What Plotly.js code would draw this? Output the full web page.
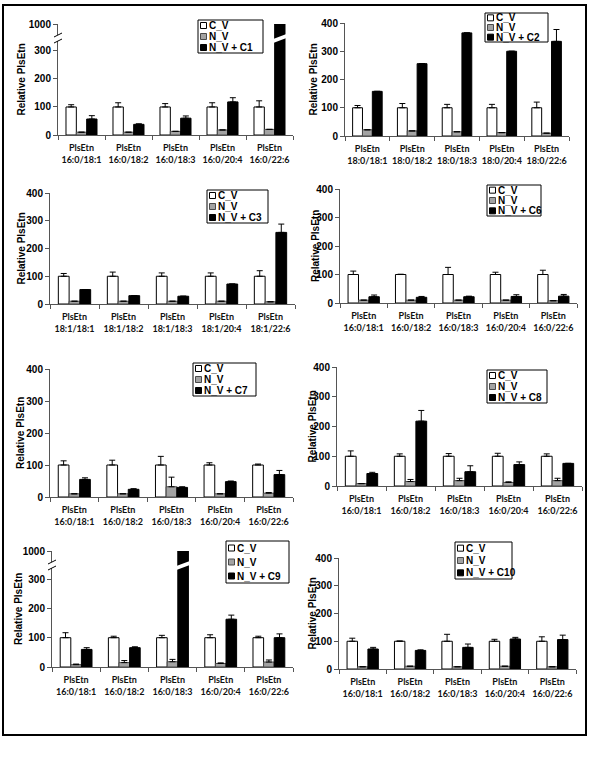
<!DOCTYPE html>
<html><head><meta charset="utf-8">
<script src="https://cdn.plot.ly/plotly-3.0.1.min.js"></script>
<style>html,body{margin:0;padding:0;background:#fff}#chart{width:600px;height:776px}</style>
</head><body><div id="chart"></div>
<script>
// ---------- data ----------
const catsA = ['PlsEtn<br>16:0/18:1','PlsEtn<br>16:0/18:2','PlsEtn<br>16:0/18:3','PlsEtn<br>16:0/20:4','PlsEtn<br>16:0/22:6'];
const catsB = ['PlsEtn<br>18:0/18:1','PlsEtn<br>18:0/18:2','PlsEtn<br>18:0/18:3','PlsEtn<br>18:0/20:4','PlsEtn<br>18:0/22:6'];
const catsC = ['PlsEtn<br>18:1/18:1','PlsEtn<br>18:1/18:2','PlsEtn<br>18:1/18:3','PlsEtn<br>18:1/20:4','PlsEtn<br>18:1/22:6'];
const seriesNames = ['C_V', 'N_V'];
const yTicks = [0, 100, 200, 300, 400];
const breakTick = [1000];
const yTitle = 'Relative PlsEtn';

const cv = [100, 100, 100, 100, 100];

// panel C1
const c1_cvErr = [8, 15, 12, 15, 22];
const c1_nv = [10, 10, 13, 18, 20];
const c1_nvErr = [0, 0, 0, 0, 0];
const c1_tr = [57, 38, 60, 118, 1000];
const c1_trErr = [12, 2, 8, 15, 0];
// panel C2
const c2_cvErr = [8, 15, 12, 12, 20];
const c2_nv = [22, 18, 15, 12, 10];
const c2_nvErr = [0, 0, 0, 0, 0];
const c2_tr = [158, 256, 365, 300, 335];
const c2_trErr = [0, 0, 0, 0, 42];
// panel C3
const c3_cvErr = [10, 15, 12, 12, 20];
const c3_nv = [10, 10, 10, 10, 8];
const c3_nvErr = [0, 0, 0, 0, 0];
const c3_tr = [52, 30, 28, 72, 258];
const c3_trErr = [0, 0, 0, 0, 30];
// panel C6
const c6_cvErr = [12, 1, 25, 8, 15];
const c6_nv = [10, 10, 10, 10, 8];
const c6_nvErr = [0, 0, 0, 0, 0];
const c6_tr = [22, 20, 22, 23, 24];
const c6_trErr = [6, 3, 2, 6, 6];
// panel C7
const c7_cvErr = [13, 15, 27, 7, 3];
const c7_nv = [10, 10, 32, 10, 12];
const c7_nvErr = [0, 0, 30, 0, 2];
const c7_tr = [55, 24, 30, 48, 70];
const c7_trErr = [5, 2, 2, 2, 13];
// panel C8
const c8_cvErr = [18, 8, 9, 10, 8];
const c8_nv = [8, 15, 18, 12, 18];
const c8_nvErr = [0, 7, 8, 2, 8];
const c8_tr = [42, 218, 48, 72, 76];
const c8_trErr = [4, 36, 20, 9, 0];
// panel C9
const c9_cvErr = [17, 5, 8, 10, 5];
const c9_nv = [8, 15, 18, 12, 17];
const c9_nvErr = [2, 7, 8, 2, 7];
const c9_tr = [60, 66, 1000, 163, 100];
const c9_trErr = [6, 3, 0, 14, 13];
// panel C10
const c10_cvErr = [11, 1, 25, 7, 16];
const c10_nv = [8, 10, 8, 10, 8];
const c10_nvErr = [0, 0, 0, 0, 0];
const c10_tr = [72, 67, 78, 108, 106];
const c10_trErr = [6, 2, 12, 6, 16];

const panels = [
  {cats: catsA, cvErr: c1_cvErr, nv: c1_nv, nvErr: c1_nvErr, tr: c1_tr, trErr: c1_trErr, trName: 'N_V + C1'},
  {cats: catsB, cvErr: c2_cvErr, nv: c2_nv, nvErr: c2_nvErr, tr: c2_tr, trErr: c2_trErr, trName: 'N_V + C2'},
  {cats: catsC, cvErr: c3_cvErr, nv: c3_nv, nvErr: c3_nvErr, tr: c3_tr, trErr: c3_trErr, trName: 'N_V + C3'},
  {cats: catsA, cvErr: c6_cvErr, nv: c6_nv, nvErr: c6_nvErr, tr: c6_tr, trErr: c6_trErr, trName: 'N_V + C6'},
  {cats: catsA, cvErr: c7_cvErr, nv: c7_nv, nvErr: c7_nvErr, tr: c7_tr, trErr: c7_trErr, trName: 'N_V + C7'},
  {cats: catsA, cvErr: c8_cvErr, nv: c8_nv, nvErr: c8_nvErr, tr: c8_tr, trErr: c8_trErr, trName: 'N_V + C8'},
  {cats: catsA, cvErr: c9_cvErr, nv: c9_nv, nvErr: c9_nvErr, tr: c9_tr, trErr: c9_trErr, trName: 'N_V + C9'},
  {cats: catsA, cvErr: c10_cvErr, nv: c10_nv, nvErr: c10_nvErr, tr: c10_tr, trErr: c10_trErr, trName: 'N_V + C10'}
];

// ---------- layout geometry (pixels) ----------
const W = 600, H = 776;
const px = x => x / W;
const py = y => 1 - y / H;
const geom = [
  {x0: 58,  x1: 293, base: 135, top: 24,  brk: 38,  max: 346, leg: [198, 20, 263, 53],  titleX: 21},
  {x0: 345, x1: 569, base: 136, top: 23,  max: 400, leg: [485, 13, 548, 42],  titleX: 313},
  {x0: 50,  x1: 295, base: 304, top: 193, max: 400, leg: [207, 190, 268, 223], titleX: 21},
  {x0: 340, x1: 577, base: 303, top: 189, max: 400, leg: [487, 185, 541, 216], titleX: 315},
  {x0: 50,  x1: 293, base: 497, top: 369, max: 400, leg: [193, 363, 256, 396], titleX: 20},
  {x0: 337, x1: 582, base: 486, top: 367, max: 400, leg: [487, 370, 547, 403], titleX: 312},
  {x0: 52,  x1: 293, base: 667, top: 551, brk: 565, max: 348, leg: [226, 541, 289, 583], titleX: 18},
  {x0: 339, x1: 576, base: 669, top: 558, max: 400, leg: [455, 542, 512, 579], titleX: 312}
];
const BARGAP = 0.34;
const fillColors = ['#ffffff', '#a3a3a3', '#000000'];
const lineColors = ['#000000', '#4a4a4a', '#000000'];
const axisColor = '#555';
const numFont = {family: 'Liberation Sans, Arial, sans-serif', size: 10, weight: 'bold', color: '#000'};
const catFont = {family: 'Lato, sans-serif', size: 9, weight: 'bold', color: '#111'};

const traces = [];
const shapes = [];
const annotations = [];
const layout = {
  width: W, height: H, margin: {l: 0, r: 0, t: 0, b: 0},
  paper_bgcolor: '#fff', plot_bgcolor: 'rgba(0,0,0,0)',
  showlegend: false, barmode: 'group', bargap: BARGAP, bargroupgap: 0,
  font: {family: 'Liberation Sans, Arial, sans-serif', color: '#000'},
  shapes: shapes, annotations: annotations
};

function barTraces(p, xId, yId) {
  const names = [seriesNames[0], seriesNames[1], p.trName];
  const ys = [cv, p.nv, p.tr];
  const es = [p.cvErr, p.nvErr, p.trErr];
  return ys.map((y, k) => ({
    type: 'bar', x: p.cats, y: y, name: names[k], xaxis: xId, yaxis: yId,
    marker: {color: fillColors[k], line: {color: lineColors[k], width: 1}},
    error_y: {type: 'data', symmetric: false, array: es[k], arrayminus: es[k].map(() => 0),
              color: '#000', thickness: 1, width: 3},
    hoverinfo: 'skip'
  }));
}

function yAxisBase(extra) {
  return Object.assign({
    showline: true, linecolor: axisColor, linewidth: 1, ticks: 'outside', ticklen: 4,
    tickcolor: axisColor, showgrid: false, zeroline: false, tickfont: numFont,
    fixedrange: true, automargin: false
  }, extra);
}

let upperId = 9;
panels.forEach((p, i) => {
  const n = i + 1, g = geom[i];
  const suf = n === 1 ? '' : String(n);
  const xId = 'x' + suf, yId = 'y' + suf;
  traces.push(...barTraces(p, xId, yId));

  layout['xaxis' + suf] = {
    domain: [px(g.x0), px(g.x1)], anchor: yId, type: 'category', range: [-0.5, 4.5],
    showline: true, linecolor: axisColor, linewidth: 1, ticks: 'outside', tickson: 'boundaries',
    ticklen: 4, tickcolor: axisColor, showgrid: false, zeroline: false, tickfont: catFont,
    tickangle: 0, fixedrange: true, automargin: false, ticklabelstandoff: 4
  };
  const lowerTop = g.brk || g.top;
  layout['yaxis' + suf] = yAxisBase({
    domain: [py(g.base), py(lowerTop)], anchor: xId, range: [0, g.max],
    tickvals: yTicks.filter(v => v <= g.max)
  });
  // y-axis title
  annotations.push({xref: 'paper', yref: 'paper', x: px(g.titleX), y: py((g.base + g.top) / 2),
    xanchor: 'center', yanchor: 'middle', textangle: -90, text: yTitle, showarrow: false,
    font: numFont, borderpad: 0});

  if (g.brk) {
    const uId = 'y' + upperId;
    layout['yaxis' + upperId] = yAxisBase({
      domain: [py(g.brk), py(g.top)], anchor: xId, range: [900, 1000], tickvals: breakTick
    });
    traces.push(...barTraces(p, xId, uId).map(t => Object.assign(t, {showlegend: false})));
    upperId++;
    // axis break marks
    shapes.push({type: 'rect', xref: 'paper', yref: 'paper', x0: px(g.x0 - 2), x1: px(g.x0 + 2),
      y0: py(g.brk + 3), y1: py(g.brk - 3), fillcolor: '#fff', line: {width: 0}});
    [g.brk - 3, g.brk + 3].forEach(yy => shapes.push({type: 'line', xref: 'paper', yref: 'paper',
      x0: px(g.x0 - 4), y0: py(yy + 2), x1: px(g.x0 + 4), y1: py(yy - 2), line: {color: '#000', width: 1}}));
    // white slash across the broken bar
    const idx = p.tr.findIndex(v => v > g.max);
    const w = 1 - BARGAP;
    const d0 = px(g.x0), d1 = px(g.x1);
    const c2x = c => d0 + (c + 0.5) / 5 * (d1 - d0);
    const xl = c2x(idx + w / 6 - 0.03), xr = c2x(idx + w / 2 + 0.03);
    shapes.push({type: 'path', xref: 'paper', yref: 'paper', fillcolor: '#fff', line: {width: 0},
      path: `M${xl},${py(g.brk + 1)} L${xr},${py(g.brk - 4)} L${xr},${py(g.brk)} L${xl},${py(g.brk + 5)} Z`});
  }

  // legend box
  const [l, t, r, b] = g.leg;
  shapes.push({type: 'rect', xref: 'paper', yref: 'paper', x0: px(l), x1: px(r), y0: py(b), y1: py(t),
    fillcolor: '#fff', line: {color: '#000', width: 1}});
  const names = [seriesNames[0], seriesNames[1], p.trName];
  names.forEach((nm, k) => {
    const cy = t + (b - t) * (k + 0.5) / 3;
    shapes.push({type: 'rect', xref: 'paper', yref: 'paper', x0: px(l + 2.5), x1: px(l + 8.5),
      y0: py(cy + 3), y1: py(cy - 3), fillcolor: fillColors[k], line: {color: lineColors[k], width: 1}});
    annotations.push({xref: 'paper', yref: 'paper', x: px(l + 9.5), y: py(cy), xanchor: 'left', yanchor: 'middle',
      text: nm, showarrow: false, font: numFont, borderpad: 0});
  });
});

// outer frame
shapes.push({type: 'rect', xref: 'paper', yref: 'paper', x0: px(3), x1: px(586), y0: py(735), y1: py(5),
  line: {color: '#000', width: 2}, fillcolor: 'rgba(0,0,0,0)'});

Plotly.newPlot('chart', traces, layout, {staticPlot: true, displayModeBar: false});
</script>
</body></html>
